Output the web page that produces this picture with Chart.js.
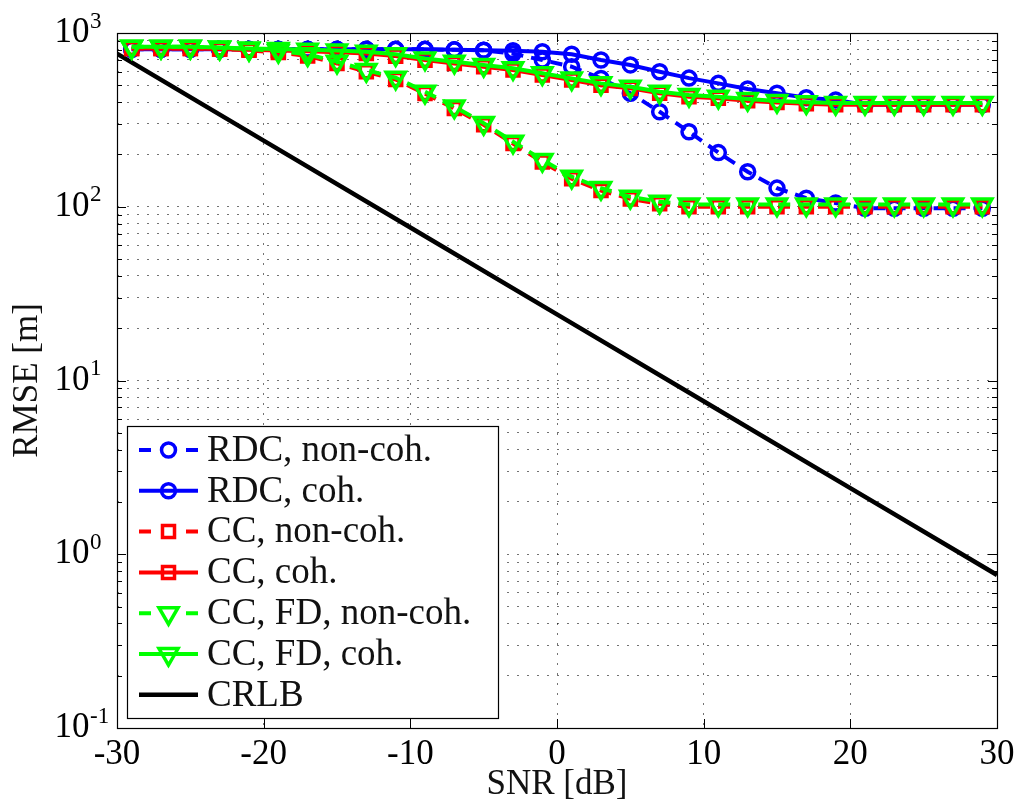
<!DOCTYPE html>
<html>
<head>
<meta charset="utf-8">
<title>RMSE vs SNR</title>
<script src="https://cdn.jsdelivr.net/npm/chart.js"></script>
<style>
  html, body { margin: 0; padding: 0; background: #fff; }
  canvas { display: block; }
</style>
</head>
<body>
<canvas id="rmse" width="1021" height="807"></canvas>
<script>
// SNR grid of the simulated points [dB]
const snr = [-29, -27, -25, -23, -21, -19, -17, -15, -13, -11, -9, -7, -5, -3, -1,
             1, 3, 5, 7, 9, 11, 13, 15, 17, 19, 21, 23, 25, 27, 29];

// RMSE [m] per estimator
const rdcNonCoh = [805, 805, 805, 805, 805, 805, 805, 805, 805, 805, 805, 800, 795, 760, 699,
                   640, 548, 450, 352, 270, 205, 159, 128, 112, 105, 98, 98, 98, 98, 98];
const rdcCoh    = [805, 805, 805, 805, 805, 805, 805, 805, 805, 805, 805, 800, 795, 790, 780,
                   754, 699, 655, 598, 550, 513, 476, 450, 424, 411, 386, 386, 386, 386, 386];
const ccNonCoh  = [815, 815, 815, 808, 795, 772, 738, 668, 598, 540, 448, 368, 296, 231, 181,
                   145, 124, 111, 104, 100, 100, 100, 100, 100, 100, 100, 100, 100, 100, 100];
const ccCoh     = [815, 815, 815, 808, 800, 792, 784, 776, 762, 736, 698, 668, 640, 612, 573,
                   536, 501, 480, 450, 430, 421, 408, 398, 391, 387, 387, 387, 387, 387, 387];
const fdNonCoh  = [834, 834, 834, 823, 809, 788, 754, 684, 612, 553, 459, 377, 303, 237, 186,
                   149, 128, 114, 107, 103, 103, 103, 103, 103, 103, 103, 103, 103, 103, 103];
const fdCoh     = [834, 834, 834, 825, 815, 808, 800, 792, 780, 754, 714, 684, 655, 627, 586,
                   548, 513, 491, 459, 440, 430, 417, 406, 399, 395, 395, 395, 395, 395, 395];

// Cramer-Rao lower bound
const crlbSnr = [-30, -20, -10, 0, 10, 20, 30];
const crlb    = [760, 240, 76, 24, 7.6, 2.4, 0.76];

// axis ticks
const xTicks = [-30, -20, -10, 0, 10, 20, 30];
const yDecades = [0.1, 1, 10, 100, 1000];
const yExponents = ['-1', '0', '1', '2', '3'];
const yMinorSteps = [2, 3, 4, 5, 6, 7, 8, 9];

const yTicks = [];
yDecades.forEach((d, i) => {
  yTicks.push(d);
  if (i < yDecades.length - 1) yMinorSteps.forEach(m => yTicks.push(d * m));
});

const serif = "'Liberation Serif', 'Times New Roman', serif";
const gridColor = 'rgba(0, 0, 0, 0.55)';
const markerSize = { circle: 7, rect: 8.5, triangle: 11 };

function curve(label, xs, ys, color, dashed, marker, order) {
  return {
    label,
    data: xs.map((x, i) => ({ x, y: ys[i] })),
    order,
    borderColor: color,
    borderWidth: 4,
    borderDash: dashed ? [12, 8] : [],
    tension: 0,
    fill: false,
    pointStyle: marker || 'circle',
    pointRotation: marker === 'triangle' ? 180 : 0,
    pointRadius: marker ? markerSize[marker] : 0,
    pointBorderWidth: 3.5,
    pointBorderColor: color,
    pointBackgroundColor: 'rgba(0, 0, 0, 0)',
    pointHoverRadius: marker ? markerSize[marker] : 0
  };
}

const datasets = [
  curve('RDC, non-coh.',    snr, rdcNonCoh, '#0000ff', true,  'circle',   6),
  curve('RDC, coh.',        snr, rdcCoh,    '#0000ff', false, 'circle',   5),
  curve('CC, non-coh.',     snr, ccNonCoh,  '#ff0000', true,  'rect',     4),
  curve('CC, coh.',         snr, ccCoh,     '#ff0000', false, 'rect',     3),
  curve('CC, FD, non-coh.', snr, fdNonCoh,  '#00ff00', true,  'triangle', 2),
  curve('CC, FD, coh.',     snr, fdCoh,     '#00ff00', false, 'triangle', 1),
  curve('CRLB',             crlbSnr, crlb,  '#000000', false, null,       7)
];
datasets[6].borderWidth = 4.5;

// box, inward ticks, y labels with exponents and the legend
const axesDecor = {
  id: 'axesDecor',
  beforeDatasetsDraw(chart) {
    const { ctx, chartArea: a, scales: { x, y } } = chart;
    ctx.save();
    ctx.strokeStyle = '#000';
    ctx.lineWidth = 1;
    ctx.setLineDash([]);
    ctx.beginPath();
    xTicks.forEach(v => {
      const px = Math.round(x.getPixelForValue(v)) + 0.5;
      ctx.moveTo(px, a.bottom); ctx.lineTo(px, a.bottom - 9);
      ctx.moveTo(px, a.top);    ctx.lineTo(px, a.top + 9);
    });
    yTicks.forEach(v => {
      const py = Math.round(y.getPixelForValue(v)) + 0.5;
      const len = yDecades.includes(v) ? 9 : 5;
      ctx.moveTo(a.left, py);  ctx.lineTo(a.left + len, py);
      ctx.moveTo(a.right, py); ctx.lineTo(a.right - len, py);
    });
    ctx.stroke();
    ctx.lineWidth = 1.2;
    ctx.strokeRect(Math.round(a.left) + 0.5, Math.round(a.top) + 0.5,
                   Math.round(a.width), Math.round(a.height));
    ctx.restore();
  },
  afterDraw(chart) {
    const { ctx, scales: { y } } = chart;
    ctx.save();
    ctx.fillStyle = '#000';
    ctx.textAlign = 'left';
    yDecades.forEach((v, i) => {
      const py = y.getPixelForValue(v);
      ctx.font = `35px ${serif}`;
      ctx.textBaseline = 'middle';
      ctx.fillText('10', 54.5, py);
      const w = ctx.measureText('10').width;
      ctx.font = `23px ${serif}`;
      ctx.textBaseline = 'alphabetic';
      ctx.fillText(yExponents[i], 54.5 + w + 0.5, py - 5.5);
    });

    // legend
    const lx = 127, ly = 426, lw = 371, lh = 292;
    ctx.fillStyle = '#fff';
    ctx.fillRect(lx, ly, lw, lh);
    ctx.strokeStyle = '#000';
    ctx.lineWidth = 1.2;
    ctx.strokeRect(lx + 0.5, ly + 0.5, lw, lh);
    chart.data.datasets.forEach((ds, i) => {
      const cy = 450 + i * 40.8;
      ctx.setLineDash([]);
      ctx.strokeStyle = ds.borderColor;
      ctx.lineWidth = ds.borderWidth;
      ctx.beginPath();
      if (ds.borderDash.length) {
        ctx.moveTo(139, cy); ctx.lineTo(151, cy);
        ctx.moveTo(186, cy); ctx.lineTo(198, cy);
      } else {
        ctx.moveTo(139, cy); ctx.lineTo(198, cy);
      }
      ctx.stroke();
      if (ds.pointRadius > 0) {
        ctx.lineWidth = ds.pointBorderWidth;
        ctx.strokeStyle = ds.pointBorderColor;
        ctx.fillStyle = 'rgba(0, 0, 0, 0)';
        Chart.helpers.drawPoint(ctx, {
          pointStyle: ds.pointStyle,
          rotation: ds.pointRotation,
          radius: ds.pointRadius,
          borderWidth: ds.pointBorderWidth
        }, 168.5, cy);
      }
      ctx.fillStyle = '#111';
      ctx.font = `37px ${serif}`;
      ctx.textBaseline = 'middle';
      ctx.fillText(ds.label, 207, cy + 1);
    });
    ctx.restore();
  }
};

new Chart(document.getElementById('rmse'), {
  type: 'line',
  data: { datasets },
  options: {
    responsive: false,
    animation: false,
    devicePixelRatio: 1,
    layout: { padding: { top: 33, right: 24, left: 0, bottom: 0 } },
    plugins: { legend: { display: false }, tooltip: { enabled: false } },
    scales: {
      x: {
        type: 'linear',
        min: -30,
        max: 30,
        afterBuildTicks: s => { s.ticks = xTicks.map(v => ({ value: v })); },
        afterFit: s => { s.height = 79; },
        grid: { color: gridColor, lineWidth: 1, drawTicks: false },
        border: { display: false, dash: [2, 8] },
        ticks: {
          color: '#000',
          font: { family: serif, size: 35 },
          padding: 6,
          maxRotation: 0,
          autoSkip: false,
          callback: v => String(v)
        },
        title: {
          display: true,
          text: 'SNR [dB]',
          color: '#111',
          font: { family: serif, size: 35, lineHeight: 1 },
          padding: { top: 0, bottom: 4.5 }
        }
      },
      y: {
        type: 'logarithmic',
        min: 0.1,
        max: 1000,
        afterBuildTicks: s => { s.ticks = yTicks.map(v => ({ value: v })); },
        afterFit: s => { s.width = 117; },
        grid: { color: gridColor, lineWidth: 1, drawTicks: false },
        border: { display: false, dash: [2, 8] },
        ticks: { display: false },
        title: {
          display: true,
          text: 'RMSE [m]',
          color: '#111',
          font: { family: serif, size: 35, lineHeight: 1 },
          padding: { top: 10.5, bottom: 0 }
        }
      }
    }
  },
  plugins: [axesDecor]
});
</script>
</body>
</html>
